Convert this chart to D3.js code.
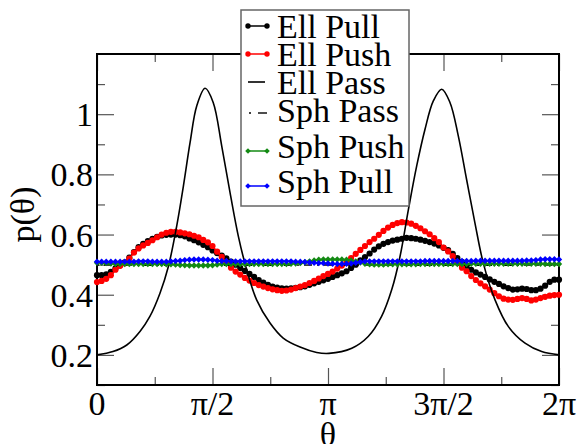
<!DOCTYPE html>
<html>
<head>
<meta charset="utf-8">
<script src="https://cdn.jsdelivr.net/npm/d3@7"></script>
<style>
  html, body { margin: 0; padding: 0; background: #fff; }
  svg { display: block; }
</style>
</head>
<body>
<div id="chart"></div>
<script>
// p(theta) distributions, ellipsoid vs sphere, push / pull / pass
// marker series sampled on 101 angles from 0 to 2pi

const ellPull = [
  0.465, 0.465, 0.468, 0.476, 0.488, 0.498, 0.508, 0.523, 0.542, 0.558,
  0.569, 0.578, 0.586, 0.592, 0.597, 0.599, 0.600, 0.600, 0.598, 0.594,
  0.587, 0.581, 0.574, 0.566, 0.558, 0.547, 0.538, 0.530, 0.521, 0.510,
  0.500, 0.489, 0.479, 0.469, 0.459, 0.449, 0.440, 0.433, 0.427, 0.424,
  0.421, 0.420, 0.421, 0.423, 0.425, 0.428, 0.433, 0.438, 0.443, 0.448,
  0.453, 0.459, 0.465, 0.471, 0.478, 0.489, 0.500, 0.514, 0.525, 0.537,
  0.550, 0.561, 0.569, 0.575, 0.580, 0.583, 0.586, 0.589, 0.588, 0.586,
  0.583, 0.579, 0.575, 0.570, 0.564, 0.556, 0.548, 0.536, 0.522, 0.509,
  0.496, 0.483, 0.474, 0.467, 0.459, 0.451, 0.443, 0.436, 0.428, 0.422,
  0.417, 0.418, 0.420, 0.419, 0.415, 0.415, 0.420, 0.430, 0.443, 0.450,
  0.450
];

const ellPush = [
  0.442, 0.446, 0.453, 0.465, 0.483, 0.496, 0.505, 0.520, 0.540, 0.554,
  0.564, 0.572, 0.581, 0.591, 0.600, 0.606, 0.609, 0.609, 0.607, 0.604,
  0.601, 0.596, 0.591, 0.582, 0.574, 0.562, 0.543, 0.526, 0.506, 0.490,
  0.477, 0.467, 0.456, 0.447, 0.439, 0.432, 0.427, 0.422, 0.418, 0.415,
  0.413, 0.414, 0.417, 0.422, 0.427, 0.432, 0.439, 0.446, 0.454, 0.462,
  0.469, 0.477, 0.487, 0.497, 0.509, 0.522, 0.536, 0.549, 0.562, 0.575,
  0.586, 0.599, 0.612, 0.623, 0.632, 0.638, 0.641, 0.640, 0.636, 0.629,
  0.621, 0.611, 0.601, 0.588, 0.575, 0.557, 0.544, 0.528, 0.506, 0.490,
  0.478, 0.462, 0.449, 0.438, 0.428, 0.417, 0.405, 0.395, 0.387, 0.384,
  0.383, 0.386, 0.389, 0.386, 0.381, 0.384, 0.389, 0.393, 0.397, 0.399,
  0.400
];

const sphPush = [
  0.506, 0.506, 0.505, 0.504, 0.502, 0.502, 0.502, 0.502, 0.502, 0.502,
  0.502, 0.502, 0.502, 0.502, 0.502, 0.501, 0.501, 0.500, 0.499, 0.498,
  0.497, 0.497, 0.497, 0.497, 0.497, 0.498, 0.500, 0.502, 0.502, 0.502,
  0.502, 0.502, 0.502, 0.502, 0.502, 0.502, 0.502, 0.502, 0.502, 0.502,
  0.502, 0.502, 0.503, 0.504, 0.505, 0.508, 0.511, 0.514, 0.516, 0.517,
  0.517, 0.517, 0.517, 0.517, 0.516, 0.514, 0.511, 0.507, 0.503, 0.501,
  0.500, 0.500, 0.500, 0.501, 0.501, 0.501, 0.501, 0.501, 0.501, 0.501,
  0.502, 0.502, 0.502, 0.502, 0.502, 0.502, 0.502, 0.502, 0.502, 0.502,
  0.502, 0.503, 0.503, 0.503, 0.503, 0.503, 0.503, 0.503, 0.503, 0.503,
  0.503, 0.503, 0.503, 0.503, 0.503, 0.503, 0.503, 0.502, 0.502, 0.502,
  0.502
];

const sphPull = [
  0.510, 0.510, 0.510, 0.510, 0.510, 0.510, 0.510, 0.510, 0.510, 0.511,
  0.511, 0.511, 0.510, 0.510, 0.510, 0.510, 0.511, 0.512, 0.513, 0.515,
  0.516, 0.517, 0.517, 0.517, 0.516, 0.515, 0.513, 0.512, 0.512, 0.511,
  0.511, 0.511, 0.511, 0.511, 0.511, 0.511, 0.511, 0.511, 0.511, 0.511,
  0.511, 0.511, 0.511, 0.510, 0.510, 0.509, 0.507, 0.506, 0.505, 0.505,
  0.504, 0.503, 0.502, 0.502, 0.503, 0.504, 0.506, 0.509, 0.511, 0.511,
  0.511, 0.511, 0.511, 0.511, 0.511, 0.511, 0.511, 0.511, 0.511, 0.511,
  0.511, 0.512, 0.512, 0.512, 0.512, 0.512, 0.512, 0.512, 0.512, 0.512,
  0.512, 0.512, 0.513, 0.513, 0.513, 0.513, 0.513, 0.513, 0.513, 0.513,
  0.513, 0.513, 0.513, 0.514, 0.514, 0.515, 0.517, 0.518, 0.518, 0.518,
  0.517
];

// sphere, passive: flat, read on a coarse grid (theta / pi)
const sphPassTheta = [0, 0.2, 0.4, 0.6, 0.8, 1.0, 1.2, 1.4, 1.6, 1.8, 2.0];
const sphPassVals  = [0.499, 0.498, 0.498, 0.498, 0.498, 0.499, 0.499, 0.498, 0.498, 0.498, 0.499];

// ellipsoid, passive: thin solid curve (theta / pi)
const ellPassTheta = [
  0, 0.069, 0.129, 0.186, 0.229, 0.273, 0.309, 0.345, 0.374, 0.403,
  0.432, 0.468, 0.503, 0.540, 0.576, 0.612, 0.648, 0.691, 0.749, 0.806,
  0.879, 0.951, 1.004, 1.103, 1.174, 1.232, 1.276, 1.312, 1.348, 1.384,
  1.420, 1.456, 1.492, 1.528, 1.564, 1.600, 1.636, 1.672, 1.723, 1.781,
  1.853, 1.925, 2.0
];
const ellPassVals = [
  0.200, 0.211, 0.233, 0.278, 0.328, 0.406, 0.494, 0.628, 0.761, 0.906,
  1.028, 1.086, 1.039, 0.894, 0.739, 0.594, 0.483, 0.383, 0.306, 0.256,
  0.226, 0.208, 0.205, 0.222, 0.261, 0.328, 0.417, 0.528, 0.683, 0.828,
  0.950, 1.044, 1.083, 1.039, 0.928, 0.783, 0.639, 0.506, 0.383, 0.294,
  0.239, 0.211, 0.200
];

const xMajor = [0, 0.5, 1, 1.5, 2];           // in units of pi
const xMajorLabels = ["0", "\u03c0/2", "\u03c0", "3\u03c0/2", "2\u03c0"];
const xMinor = [0.25, 0.75, 1.25, 1.75];
const yMajor = [0.2, 0.4, 0.6, 0.8, 1.0];
const yMajorLabels = ["0.2", "0.4", "0.6", "0.8", "1"];
const yMinor = [0.1, 0.3, 0.5, 0.7, 0.9, 1.1];

const legendNames = ["Ell Pull", "Ell Push", "Ell Pass", "Sph Pass", "Sph Push", "Sph Pull"];

const W = 578, H = 444;
const m = { left: 97, right: 559, top: 54, bottom: 385 };
const SERIF = "Liberation Serif, DejaVu Serif, Noto Serif, Times New Roman, serif";
const GREEN = "#138a13";
const BLUE  = "#0000ff";
const RED   = "#ff0000";

const N = ellPull.length;
const thetaPi = d3.range(N).map(i => 2 * i / (N - 1));

const x = d3.scaleLinear().domain([0, 2]).range([m.left, m.right]);
const y = d3.scaleLinear().domain([0.1, 1.2]).range([m.bottom, m.top]);

const svg = d3.select("#chart").append("svg")
  .attr("width", W)
  .attr("height", H)
  .attr("viewBox", `0 0 ${W} ${H}`);

// ---- ticks on all four sides, pointing inward
function styleTicks(sel) {
  sel.select(".domain").remove();
  sel.selectAll(".tick line").attr("stroke", "#555").attr("stroke-width", 1.2);
  sel.selectAll("text").remove();
}

function tickSet(axisFn, vals, len, transform, scale) {
  const g = svg.append("g")
    .attr("transform", transform)
    .call(axisFn(scale).tickValues(vals).tickSize(-len));
  styleTicks(g);
  return g;
}

[[xMajor, 17], [xMinor, 8]].forEach(([vals, len]) => {
  tickSet(d3.axisBottom, vals, len, `translate(0,${m.bottom})`, x);
  tickSet(d3.axisTop, vals, len, `translate(0,${m.top})`, x);
});
[[yMajor, 17], [yMinor, 8]].forEach(([vals, len]) => {
  tickSet(d3.axisLeft, vals, len, `translate(${m.left},0)`, y);
  tickSet(d3.axisRight, vals, len, `translate(${m.right},0)`, y);
});

// frame
svg.append("rect")
  .attr("x", m.left).attr("y", m.top)
  .attr("width", m.right - m.left).attr("height", m.bottom - m.top)
  .attr("fill", "none")
  .attr("stroke", "#000")
  .attr("stroke-width", 2);

// tick labels
svg.append("g").selectAll("text")
  .data(xMajor)
  .join("text")
    .attr("x", d => x(d))
    .attr("y", m.bottom + 30)
    .attr("text-anchor", "middle")
    .style("font-family", SERIF)
    .style("font-size", "34px")
    .attr("fill", "#000")
    .text((d, i) => xMajorLabels[i]);

svg.append("g").selectAll("text")
  .data(yMajor)
  .join("text")
    .attr("x", m.left - 4)
    .attr("y", d => y(d) + 12)
    .attr("text-anchor", "end")
    .style("font-family", SERIF)
    .style("font-size", "34px")
    .attr("fill", "#000")
    .text((d, i) => yMajorLabels[i]);

// axis titles
svg.append("text")
  .attr("x", x(1))
  .attr("y", 446)
  .attr("text-anchor", "middle")
  .style("font-family", SERIF)
  .style("font-size", "34px")
  .text("\u03b8");

svg.append("text")
  .attr("transform", `translate(34,${(m.top + m.bottom) / 2 - 5}) rotate(-90)`)
  .attr("text-anchor", "middle")
  .style("font-family", SERIF)
  .style("font-size", "34px")
  .text("p(\u03b8)");

// ---- series
const lineFn = d3.line().x(d => x(d[0])).y(d => y(d[1]));
const smoothFn = d3.line().x(d => x(d[0])).y(d => y(d[1])).curve(d3.curveCatmullRom.alpha(0.5));
const pairs = vals => vals.map((v, i) => [thetaPi[i], v]);

const diamond = r => `M0,${-r}L${r},0L0,${r}L${-r},0Z`;

function markerSeries(vals, color, kind) {
  const data = pairs(vals);
  const g = svg.append("g");
  g.append("path")
    .datum(data)
    .attr("d", lineFn)
    .attr("fill", "none")
    .attr("stroke", color)
    .attr("stroke-width", 1.5);
  if (kind === "circle") {
    g.selectAll("circle")
      .data(data)
      .join("circle")
        .attr("cx", d => x(d[0]))
        .attr("cy", d => y(d[1]))
        .attr("r", 3.1)
        .attr("fill", color);
  } else {
    g.selectAll("path.mk")
      .data(data)
      .join("path")
        .attr("class", "mk")
        .attr("transform", d => `translate(${x(d[0])},${y(d[1])})`)
        .attr("d", diamond(3.2))
        .attr("fill", color);
  }
}

markerSeries(ellPull, "#000", "circle");
markerSeries(ellPush, RED, "circle");

svg.append("path")
  .datum(ellPassTheta.map((t, i) => [t, ellPassVals[i]]))
  .attr("d", smoothFn)
  .attr("fill", "none")
  .attr("stroke", "#000")
  .attr("stroke-width", 1.6);

svg.append("path")
  .datum(sphPassTheta.map((t, i) => [t, sphPassVals[i]]))
  .attr("d", lineFn)
  .attr("fill", "none")
  .attr("stroke", "#000")
  .attr("stroke-width", 1.4)
  .attr("stroke-dasharray", "2,5,8,5");

markerSeries(sphPush, GREEN, "diamond");
markerSeries(sphPull, BLUE, "diamond");

// ---- legend
const legendRows = [
  { base: 37.7, sym: 26 },
  { base: 65.7, sym: 54 },
  { base: 94,   sym: 82 },
  { base: 122,  sym: 113 },
  { base: 158,  sym: 151 },
  { base: 193,  sym: 186 },
];

const lg = svg.append("g");
lg.append("rect")
  .attr("x", 241).attr("y", 10)
  .attr("width", 168).attr("height", 196)
  .attr("fill", "#fff")
  .attr("stroke", "#666")
  .attr("stroke-width", 1.5);

legendNames.forEach((name, i) => {
  const r = legendRows[i];
  const row = lg.append("g");
  row.append("text")
    .attr("x", 277)
    .attr("y", r.base)
    .style("font-family", SERIF)
    .style("font-size", "34px")
    .attr("fill", "#000")
    .text(name);

  if (i === 0 || i === 1 || i === 4 || i === 5) {
    const c = [ "#000", RED, null, null, GREEN, BLUE ][i];
    row.append("line")
      .attr("x1", 248).attr("x2", 267)
      .attr("y1", r.sym).attr("y2", r.sym)
      .attr("stroke", c).attr("stroke-width", 1.5);
    [248, 267].forEach(cx => {
      if (i < 2) {
        row.append("circle").attr("cx", cx).attr("cy", r.sym).attr("r", 2.7).attr("fill", c);
      } else {
        row.append("path")
          .attr("transform", `translate(${cx},${r.sym})`)
          .attr("d", diamond(2.8))
          .attr("fill", c);
      }
    });
  } else if (i === 2) {
    row.append("line")
      .attr("x1", 248).attr("x2", 265)
      .attr("y1", r.sym).attr("y2", r.sym)
      .attr("stroke", "#000").attr("stroke-width", 1.6);
  } else {
    row.append("line")
      .attr("x1", 249).attr("x2", 251)
      .attr("y1", r.sym).attr("y2", r.sym)
      .attr("stroke", "#000").attr("stroke-width", 1.4);
    row.append("line")
      .attr("x1", 258).attr("x2", 267)
      .attr("y1", r.sym).attr("y2", r.sym)
      .attr("stroke", "#000").attr("stroke-width", 1.4);
  }
});
</script>
</body>
</html>
